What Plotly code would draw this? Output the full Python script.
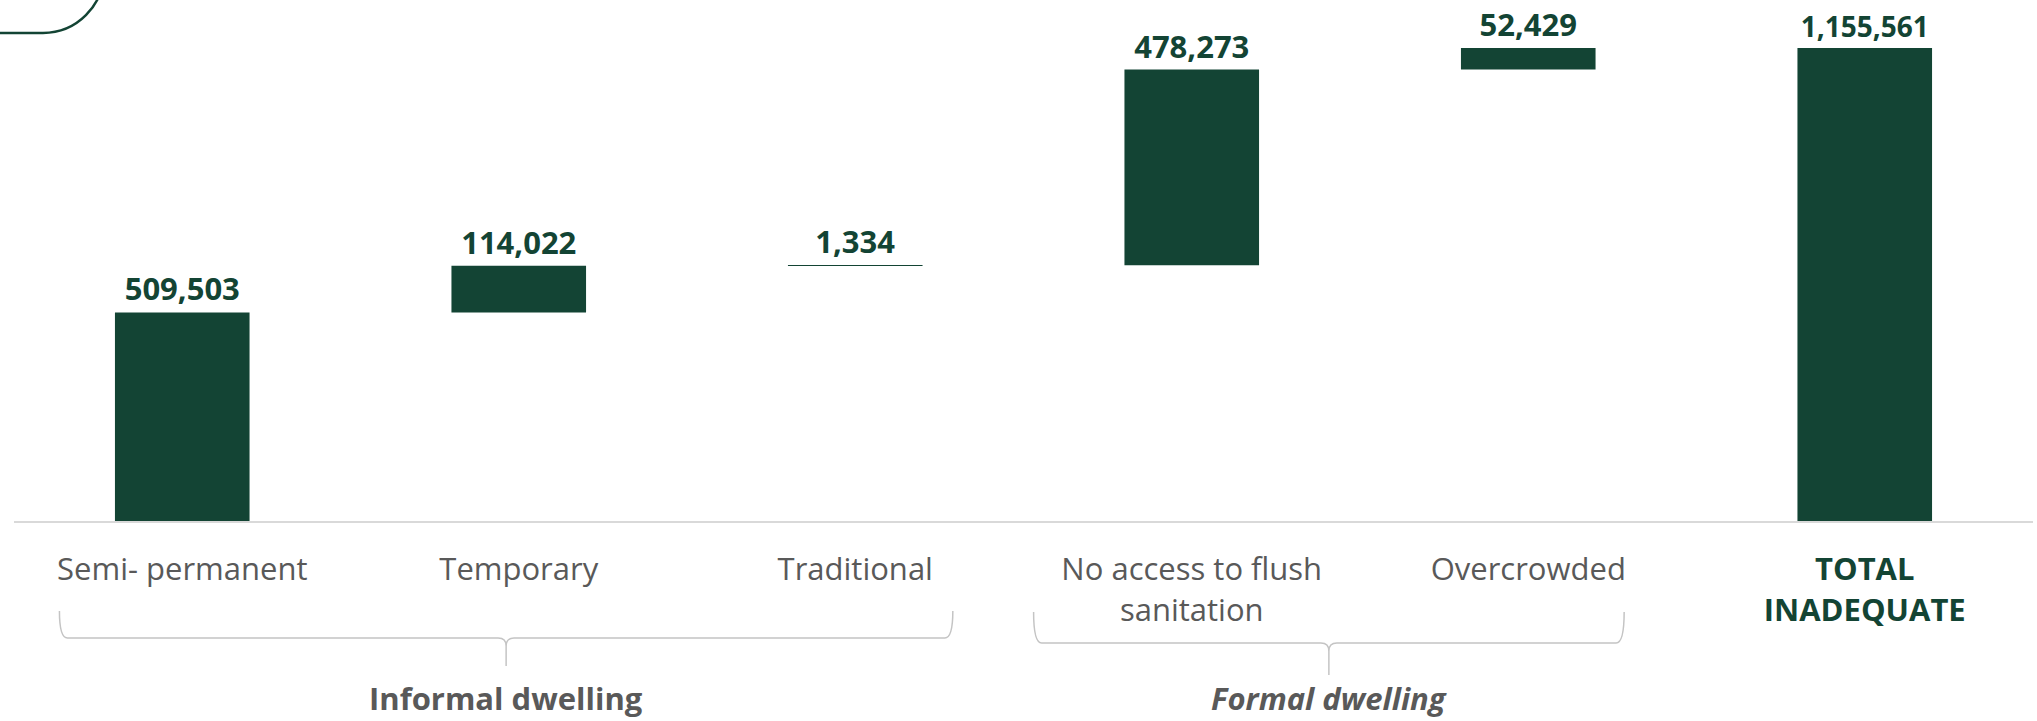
import plotly.graph_objects as go

# ---- data -------------------------------------------------------------
categories = ["Semi- permanent", "Temporary", "Traditional",
              "No access to flush sanitation", "Overcrowded", "TOTAL INADEQUATE"]
tick_labels = ["Semi- permanent", "Temporary", "Traditional",
               "No access to flush<br>sanitation", "Overcrowded",
               "<b><span style='color:#134434'>TOTAL<br>INADEQUATE</span></b>"]
components = [509503, 114022, 1334, 478273, 52429]
total = sum(components)

group_names = ["<b>Informal dwelling</b>", "<b><i>Formal dwelling</i></b>"]
# span of each group bracket, in category-index units
group_spans = [(-0.365, 2.29), (2.53, 4.285)]

# ---- styling ----------------------------------------------------------
GREEN = "#134434"
GREY_TEXT = "#595959"
BRACKET = "#c4c4c4"
FONT = "Open Sans"

W, H = 2037, 721
ML, MR, MT, MB = 14, 4, 0, 200
PW, PH = W - ML - MR, H - MT - MB
N = len(categories)


def px_x(px):
    return (px - ML) / PW


def px_y(py):
    return (MT + PH - py) / PH


def cat_px(i):
    return ML + (i + 0.5) * PW / N


def bracket_path(x0, x1, y_top, y_mid, y_tip, r=8):
    xc = (x0 + x1) / 2
    X, Y = px_x, px_y
    return (
        f"M {X(x0)},{Y(y_top)} Q {X(x0)},{Y(y_mid)} {X(x0 + r)},{Y(y_mid)} "
        f"L {X(xc - r)},{Y(y_mid)} Q {X(xc)},{Y(y_mid)} {X(xc)},{Y(y_mid + r)} "
        f"L {X(xc)},{Y(y_tip)} "
        f"M {X(x1)},{Y(y_top)} Q {X(x1)},{Y(y_mid)} {X(x1 - r)},{Y(y_mid)} "
        f"L {X(xc + r)},{Y(y_mid)} Q {X(xc)},{Y(y_mid)} {X(xc)},{Y(y_mid + r)}"
    )


value_text = [f"{v:,}" for v in components] + [f"{total:,}"]

fig = go.Figure()
fig.add_trace(go.Waterfall(
    x=categories,
    y=components + [total],
    measure=["relative"] * len(components) + ["total"],
    text=value_text,
    textposition="outside",
    textfont=dict(family=FONT, size=[31] * len(components) + [28],
                  color=GREEN, weight="bold"),
    constraintext="none",
    cliponaxis=False,
    increasing=dict(marker=dict(color=GREEN)),
    decreasing=dict(marker=dict(color=GREEN)),
    totals=dict(marker=dict(color=GREEN)),
    connector=dict(visible=False),
    hoverinfo="skip",
))

shapes = []
# group brackets under the category labels
bracket_rows = [(611, 638, 666), (612, 643, 675)]
for (a, b), (yt, ym, yb) in zip(group_spans, bracket_rows):
    shapes.append(dict(
        type="path", xref="paper", yref="paper",
        path=bracket_path(cat_px(a), cat_px(b), yt, ym, yb),
        line=dict(color=BRACKET, width=1.5),
    ))

# rounded corner ornament in the top-left
cx, cy, r = 43, -27.7, 60.7
k = 0.5523 * r
shapes.append(dict(
    type="path", xref="paper", yref="paper",
    path=(f"M {px_x(-5)},{px_y(cy + r)} L {px_x(cx)},{px_y(cy + r)} "
          f"C {px_x(cx + k)},{px_y(cy + r)} {px_x(cx + r)},{px_y(cy + k)} "
          f"{px_x(cx + r)},{px_y(cy)}"),
    line=dict(color=GREEN, width=2.5),
))

annotations = []
for name, (a, b) in zip(group_names, group_spans):
    annotations.append(dict(
        text=name, xref="paper", yref="paper",
        x=px_x(cat_px((a + b) / 2)), y=px_y(676),
        xanchor="center", yanchor="top", showarrow=False,
        borderpad=0,
        font=dict(family=FONT, size=31, color=GREY_TEXT),
    ))

fig.update_layout(
    width=W, height=H,
    margin=dict(l=ML, r=MR, t=MT, b=MB),
    paper_bgcolor="white", plot_bgcolor="white",
    showlegend=False,
    waterfallgap=0.6,
    shapes=shapes,
    annotations=annotations,
    xaxis=dict(
        type="category", range=[-0.5, N - 0.5],
        tickvals=categories, ticktext=tick_labels,
        tickfont=dict(family=FONT, size=31, color=GREY_TEXT),
        ticklabelstandoff=20,
        showline=True, linecolor="#d9d9d9", linewidth=2,
        ticks="", showgrid=False, zeroline=False,
    ),
    yaxis=dict(visible=False, range=[0, 1273000], showgrid=False),
)

fig.write_html("out.html")
